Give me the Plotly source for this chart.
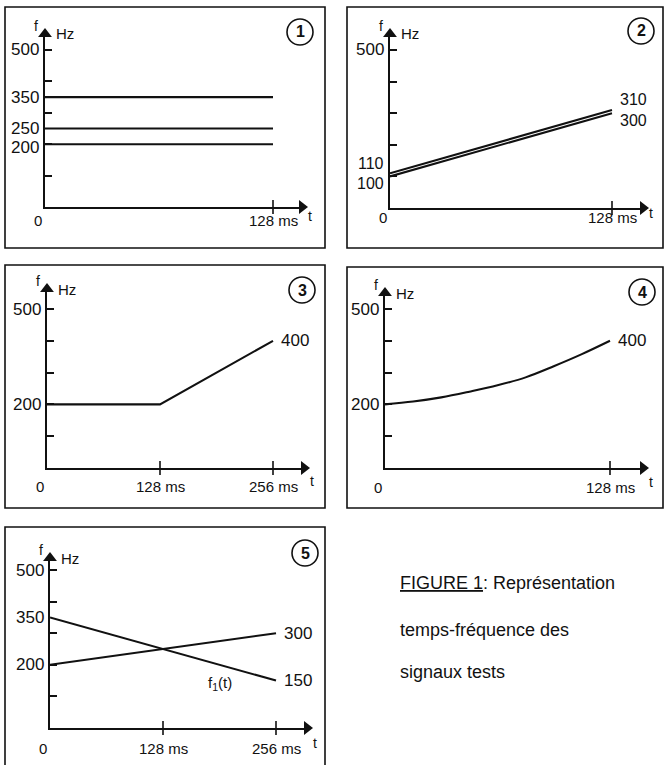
import plotly.graph_objects as go

W, H = 664, 765
FONT = "Liberation Sans, Arial, Helvetica, sans-serif"
INK = "#111111"

# ---------------- data ----------------
tick_freqs = [100, 200, 300, 400, 500]

p1_t = [0, 128]
p1_f350 = [350, 350]
p1_f250 = [250, 250]
p1_f200 = [200, 200]
p1_ylabels = [500, 350, 250, 200]
p1_xlabels = [0, 128]

p2_t = [0, 128]
p2_upper = [110, 310]
p2_lower = [100, 300]
p2_ylabels = [500, 110, 100]
p2_endlabels = [310, 300]
p2_xlabels = [0, 128]

p3_t = [0, 128, 256]
p3_f = [200, 200, 400]
p3_ylabels = [500, 200]
p3_endlabels = [400]
p3_xlabels = [0, 128, 256]

p4_t = [0, 16, 32, 48, 64, 80, 96, 112, 128]
p4_f = [200, 209, 222, 240, 260, 285, 320, 358, 400]
p4_ylabels = [500, 200]
p4_endlabels = [400]
p4_xlabels = [0, 128]

p5_t = [0, 256]
p5_f1 = [350, 150]
p5_f2 = [200, 300]
p5_ylabels = [500, 350, 200]
p5_endlabels = [300, 150]
p5_xlabels = [0, 128, 256]
p5_f1_label_pos = (192, 140)

caption = ["<u>FIGURE 1</u>: Représentation", "temps-fréquence des", "signaux tests"]

# ---------------- geometry (pixels) ----------------
panels = [
    dict(n=1, box=(5, 7, 325, 248), ox=45, oy=207, xend=308, ytop=28, ttick=128, tickpx=273, y500=50,
         circ=(300, 32), xlab_dy=14, xticks=[128]),
    dict(n=2, box=(347, 7, 663, 248), ox=390, oy=208, xend=649, ytop=28, ttick=128, tickpx=612, y500=50,
         circ=(641, 31), xlab_dy=10, xticks=[128]),
    dict(n=3, box=(5, 265, 325, 508), ox=47, oy=468, xend=310, ytop=283, ttick=256, tickpx=273, y500=309,
         circ=(302, 290), xlab_dy=18, xticks=[128, 256]),
    dict(n=4, box=(347, 267, 663, 508), ox=385, oy=468, xend=649, ytop=287, ttick=128, tickpx=610, y500=309,
         circ=(642, 292), xlab_dy=19, xticks=[128]),
    dict(n=5, box=(5, 527, 325, 780), ox=50, oy=728, xend=313, ytop=552, ttick=256, tickpx=276, y500=570,
         circ=(305, 553), xlab_dy=20, xticks=[128, 256]),
]


def pxx(x):
    return x / W


def pyy(y):
    return 1 - y / H


fig = go.Figure()
shapes = []
annotations = []
layout_axes = {}

series = {
    1: [(p1_t, p1_f350, "linear"), (p1_t, p1_f250, "linear"), (p1_t, p1_f200, "linear")],
    2: [(p2_t, p2_upper, "linear"), (p2_t, p2_lower, "linear")],
    3: [(p3_t, p3_f, "linear")],
    4: [(p4_t, p4_f, "spline")],
    5: [(p5_t, p5_f1, "linear"), (p5_t, p5_f2, "linear")],
}
ylabels = {1: p1_ylabels, 2: p2_ylabels, 3: p3_ylabels, 4: p4_ylabels, 5: p5_ylabels}
xlabels = {1: p1_xlabels, 2: p2_xlabels, 3: p3_xlabels, 4: p4_xlabels, 5: p5_xlabels}
ylab_shift = {(1, 200): -3, (2, 110): 10, (2, 100): -7}
ylab_size = {(2, 110): 16, (2, 100): 16}

end_labels = {
    2: [(p2_t[-1], p2_endlabels[0], 11, 16), (p2_t[-1], p2_endlabels[1], -7, 16)],
    3: [(p3_t[-1], p3_endlabels[0], 0, 17)],
    4: [(p4_t[-1], p4_endlabels[0], 0, 17)],
    5: [(p5_t[-1], p5_endlabels[0], 0, 17), (p5_t[-1], p5_endlabels[1], 0, 17)],
}

ARROW = 12  # arrowhead marker size (px)

for p in panels:
    n = p["n"]
    xa = "x" if n == 1 else f"x{n}"
    ya = "y" if n == 1 else f"y{n}"
    xscale = (p["tickpx"] - p["ox"]) / p["ttick"]          # px per ms
    yscale = (p["oy"] - p["y500"]) / 500.0                  # px per Hz
    xmax = (p["xend"] - p["ox"]) / xscale
    ymax = (p["oy"] - p["ytop"]) / yscale
    xr = xmax - ARROW / 2 / xscale
    yr = ymax - ARROW / 2 / yscale

    layout_axes["xaxis" if n == 1 else f"xaxis{n}"] = dict(
        domain=[pxx(p["ox"]), pxx(p["xend"] - ARROW / 2)], range=[0, xr], anchor=ya,
        showline=True, linewidth=1.6, linecolor=INK, showgrid=False, zeroline=False,
        ticks="", showticklabels=False, fixedrange=True)
    layout_axes["yaxis" if n == 1 else f"yaxis{n}"] = dict(
        domain=[pyy(p["oy"]), pyy(p["ytop"] + ARROW / 2)], range=[0, yr], anchor=xa,
        showline=True, linewidth=1.6, linecolor=INK, showgrid=False, zeroline=False,
        tickmode="array", tickvals=tick_freqs, ticks="inside", ticklen=7, tickwidth=1.5,
        tickcolor=INK, showticklabels=False, fixedrange=True)

    for (t, f, shp) in series[n]:
        fig.add_trace(go.Scatter(x=t, y=f, xaxis=xa, yaxis=ya, mode="lines",
                                 line=dict(color=INK, width=2.1, shape=shp, smoothing=1.0),
                                 hoverinfo="skip", showlegend=False))
    # crossing x ticks
    fig.add_trace(go.Scatter(x=p["xticks"], y=[0] * len(p["xticks"]), xaxis=xa, yaxis=ya, mode="markers",
                             marker=dict(symbol="line-ns-open", size=10, color=INK,
                                         line=dict(color=INK, width=1.6)),
                             cliponaxis=False, hoverinfo="skip", showlegend=False))
    # arrowheads
    fig.add_trace(go.Scatter(x=[xr], y=[0], xaxis=xa, yaxis=ya, mode="markers",
                             marker=dict(symbol="triangle-right", size=ARROW, color=INK, line=dict(width=0)),
                             cliponaxis=False, hoverinfo="skip", showlegend=False))
    fig.add_trace(go.Scatter(x=[0], y=[yr], xaxis=xa, yaxis=ya, mode="markers",
                             marker=dict(symbol="triangle-up", size=ARROW, color=INK, line=dict(width=0)),
                             cliponaxis=False, hoverinfo="skip", showlegend=False))

    # y labels
    for v in ylabels[n]:
        annotations.append(dict(x=0, y=v, xref=xa, yref=ya, text=str(v), showarrow=False,
                                xanchor="right", yanchor="middle", xshift=-4,
                                yshift=ylab_shift.get((n, v), 0),
                                font=dict(family=FONT, size=ylab_size.get((n, v), 17), color=INK)))
    # x labels
    for v in xlabels[n]:
        txt = "0" if v == 0 else f"{v} ms"
        annotations.append(dict(x=v, y=0, xref=xa, yref=ya, text=txt, showarrow=False,
                                xanchor="center" if v else "right", yanchor="middle",
                                xshift=0 if v else -1, yshift=-p["xlab_dy"],
                                font=dict(family=FONT, size=15, color=INK)))
    # t label
    annotations.append(dict(x=xr, y=0, xref=xa, yref=ya, text="t", showarrow=False,
                            xanchor="center", yanchor="middle", xshift=ARROW / 2 + 2,
                            yshift=-p["xlab_dy"] + 5,
                            font=dict(family=FONT, size=14, color=INK)))
    # f / Hz labels
    annotations.append(dict(x=0, y=yr, xref=xa, yref=ya, text="f", showarrow=False,
                            xanchor="right", yanchor="middle", xshift=-5, yshift=8,
                            font=dict(family=FONT, size=14, color=INK)))
    annotations.append(dict(x=0, y=yr, xref=xa, yref=ya, text="Hz", showarrow=False,
                            xanchor="left", yanchor="middle", xshift=9, yshift=0,
                            font=dict(family=FONT, size=15, color=INK)))
    # end labels
    for (t, v, ys, fs) in end_labels.get(n, []):
        annotations.append(dict(x=t, y=v, xref=xa, yref=ya, text=str(v), showarrow=False,
                                xanchor="left", yanchor="middle", xshift=6, yshift=ys,
                                font=dict(family=FONT, size=fs, color=INK)))

    # frame box
    bx0, by0, bx1, by1 = p["box"]
    shapes.append(dict(type="rect", xref="paper", yref="paper", x0=pxx(bx0), y0=pyy(by1),
                       x1=pxx(bx1), y1=pyy(by0), line=dict(color=INK, width=1.6)))
    # number circle
    cx, cy = p["circ"]
    r = 13
    shapes.append(dict(type="circle", xref="paper", yref="paper", x0=pxx(cx - r), x1=pxx(cx + r),
                       y0=pyy(cy + r), y1=pyy(cy - r), line=dict(color=INK, width=1.6)))
    annotations.append(dict(x=pxx(cx), y=pyy(cy), xref="paper", yref="paper", text=f"<b>{n}</b>",
                            showarrow=False, xanchor="center", yanchor="middle",
                            font=dict(family=FONT, size=16, color=INK)))

# f1(t) label in panel 5
annotations.append(dict(x=p5_f1_label_pos[0], y=p5_f1_label_pos[1], xref="x5", yref="y5",
                        text="f<sub>1</sub>(t)", showarrow=False, xanchor="center", yanchor="middle",
                        font=dict(family=FONT, size=15, color=INK)))

# caption
cap_y = [583, 630, 672]
for txt, yy in zip(caption, cap_y):
    annotations.append(dict(x=pxx(398), y=pyy(yy), xref="paper", yref="paper", text=txt,
                            showarrow=False, xanchor="left", yanchor="middle",
                            font=dict(family=FONT, size=18, color=INK)))

fig.update_layout(width=W, height=H, margin=dict(l=0, r=0, t=0, b=0),
                  paper_bgcolor="white", plot_bgcolor="white",
                  shapes=shapes, annotations=annotations, showlegend=False, **layout_axes)

fig.write_html("out.html", config={"displayModeBar": False},
               post_script="document.body.style.margin='0px';")
